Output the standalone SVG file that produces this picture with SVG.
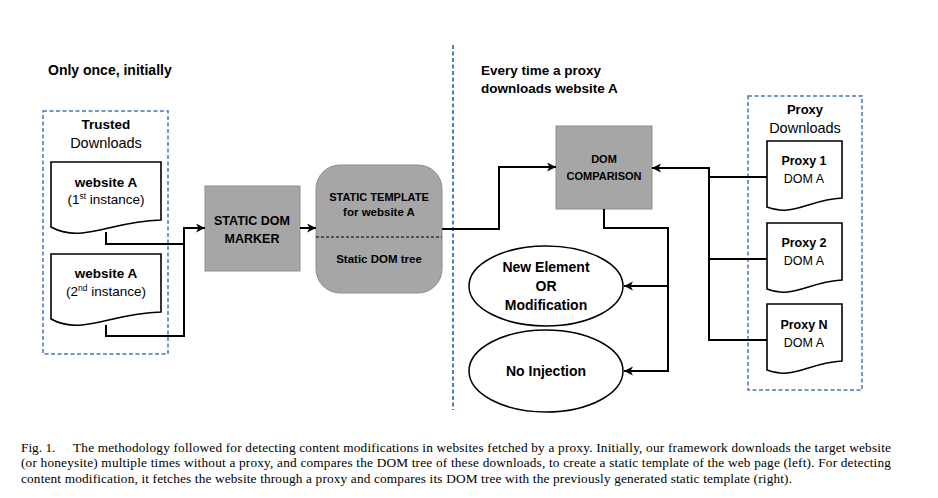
<svg xmlns="http://www.w3.org/2000/svg" width="938" height="498" viewBox="0 0 938 498">
<style>
.b{font-family:"Liberation Sans",Arial,sans-serif;font-weight:bold;fill:#000}
.r{font-family:"Liberation Sans",Arial,sans-serif;fill:#000}
.c{text-anchor:middle}
.cap{font-family:"Liberation Serif","Times New Roman",serif;font-size:13.3px;fill:#000}
.doc{fill:#fff;stroke:#000;stroke-width:1.6}
.grp{fill:none;stroke:#4a78ad;stroke-width:1.5;stroke-dasharray:4,2.5}
.gray{fill:#a6a6a6;stroke:#8e8e8e;stroke-width:1}
.ell{fill:#fff;stroke:#000;stroke-width:1.5}
.ln{fill:none;stroke:#000;stroke-width:2}
</style>
<defs>
<marker id="ah" markerUnits="userSpaceOnUse" markerWidth="10" markerHeight="10" refX="9" refY="4.5" orient="auto">
<path d="M0,0 L9,4.5 L0,9 L2.5,4.5 Z" fill="#000"/>
</marker>
<path id="docL" d="M0,0 H110 V58 C74,59 54,69 31,71 C19,72 9,70 0,65 Z"/>
<path id="docS" d="M0,0 H75 V57 C51,58 36,68 20,69 C12,70 6,68 0,66 Z"/>
</defs>
<rect width="938" height="498" fill="#fff"/>

<text class="b" x="48" y="75" font-size="14">Only once, initially</text>
<text class="b" x="481" y="75" font-size="13.5">Every time a proxy</text>
<text class="b" x="481" y="93" font-size="13.5">downloads website A</text>

<line x1="453" y1="45" x2="453" y2="410" stroke="#4a80c4" stroke-width="2" stroke-dasharray="4,2.5"/>

<g id="trusted">
<rect class="grp" x="43" y="111" width="125" height="243"/>
<text class="b c" x="106" y="129" font-size="13.5">Trusted</text>
<text class="r c" x="106" y="148" font-size="14.5">Downloads</text>
</g>
<g id="doc1">
<use href="#docL" class="doc" x="51" y="162"/>
<text class="b c" x="106" y="187" font-size="13.5">website A</text>
<text class="r c" x="106" y="204" font-size="13.5">(1<tspan font-size="8.5" dy="-5">st</tspan><tspan dy="5"> instance)</tspan></text>
</g>
<g id="doc2">
<use href="#docL" class="doc" x="51" y="254"/>
<text class="b c" x="106" y="278" font-size="13.5">website A</text>
<text class="r c" x="106" y="296" font-size="13.5">(2<tspan font-size="8.5" dy="-5">nd</tspan><tspan dy="5"> instance)</tspan></text>
</g>
<g id="marker">
<rect class="gray" x="205" y="186" width="95" height="85"/>
<text class="b c" x="252" y="225" font-size="12.5">STATIC DOM</text>
<text class="b c" x="252" y="243" font-size="12.5">MARKER</text>
</g>
<g id="template">
<rect class="gray" x="316" y="165" width="126" height="128" rx="24" stroke="#999"/>
<text class="b c" x="379" y="201" font-size="11">STATIC TEMPLATE</text>
<text class="b c" x="379" y="216" font-size="11.5">for website A</text>
<line x1="316" y1="237" x2="442" y2="237" stroke="#000" stroke-width="1.2" stroke-dasharray="3,2"/>
<text class="b c" x="379" y="263" font-size="11.5">Static DOM tree</text>
</g>
<g id="comparison">
<rect class="gray" x="556" y="126" width="96" height="83"/>
<text class="b c" x="604" y="163" font-size="11">DOM</text>
<text class="b c" x="604" y="180" font-size="11">COMPARISON</text>
</g>
<g id="modification">
<ellipse class="ell" cx="546" cy="286" rx="77" ry="40"/>
<text class="b c" x="546" y="272" font-size="14">New Element</text>
<text class="b c" x="546" y="291" font-size="14">OR</text>
<text class="b c" x="546" y="310" font-size="14">Modification</text>
</g>
<g id="noinjection">
<ellipse class="ell" cx="546" cy="371" rx="77" ry="41"/>
<text class="b c" x="546" y="376" font-size="14">No Injection</text>
</g>
<g id="proxy">
<rect class="grp" x="748" y="96" width="114" height="294"/>
<text class="b c" x="805" y="114" font-size="13">Proxy</text>
<text class="r c" x="805" y="133" font-size="14.5">Downloads</text>
</g>
<g id="proxy1">
<use href="#docS" class="doc" x="767" y="141"/>
<text class="b c" x="804" y="165" font-size="12.5">Proxy 1</text>
<text class="r c" x="804" y="183" font-size="12.5">DOM A</text>
</g>
<g id="proxy2">
<use href="#docS" class="doc" x="767" y="223"/>
<text class="b c" x="804" y="247" font-size="12.5">Proxy 2</text>
<text class="r c" x="804" y="265" font-size="12.5">DOM A</text>
</g>
<g id="proxyN">
<use href="#docS" class="doc" x="767" y="304"/>
<text class="b c" x="804" y="329" font-size="12.5">Proxy N</text>
<text class="r c" x="804" y="347" font-size="12.5">DOM A</text>
</g>

<g id="connectors">
<path class="ln" d="M106,232 V244 H184"/>
<path class="ln" d="M106,325 V336 H184 V228 H205" marker-end="url(#ah)"/>
<path class="ln" d="M300,228 H316" marker-end="url(#ah)"/>
<path class="ln" d="M442,229 H499 V167 H556" marker-end="url(#ah)"/>
<path class="ln" d="M604,209 V228 H668 V371 H624" marker-end="url(#ah)"/>
<path class="ln" d="M668,286 H624" marker-end="url(#ah)"/>
<path class="ln" d="M767,177 H709"/>
<path class="ln" d="M767,259 H709"/>
<path class="ln" d="M767,340 H709 V168 H652" marker-end="url(#ah)"/>
</g>

<g id="caption">
<text class="cap" x="21" y="452">Fig. 1.</text>
<text class="cap" x="73" y="452" textLength="818" lengthAdjust="spacing">The methodology followed for detecting content modifications in websites fetched by a proxy. Initially, our framework downloads the target website</text>
<text class="cap" x="21" y="467" textLength="870" lengthAdjust="spacing">(or honeysite) multiple times without a proxy, and compares the DOM tree of these downloads, to create a static template of the web page (left). For detecting</text>
<text class="cap" x="21" y="483" textLength="771" lengthAdjust="spacing">content modification, it fetches the website through a proxy and compares its DOM tree with the previously generated static template (right).</text>
</g>
</svg>
